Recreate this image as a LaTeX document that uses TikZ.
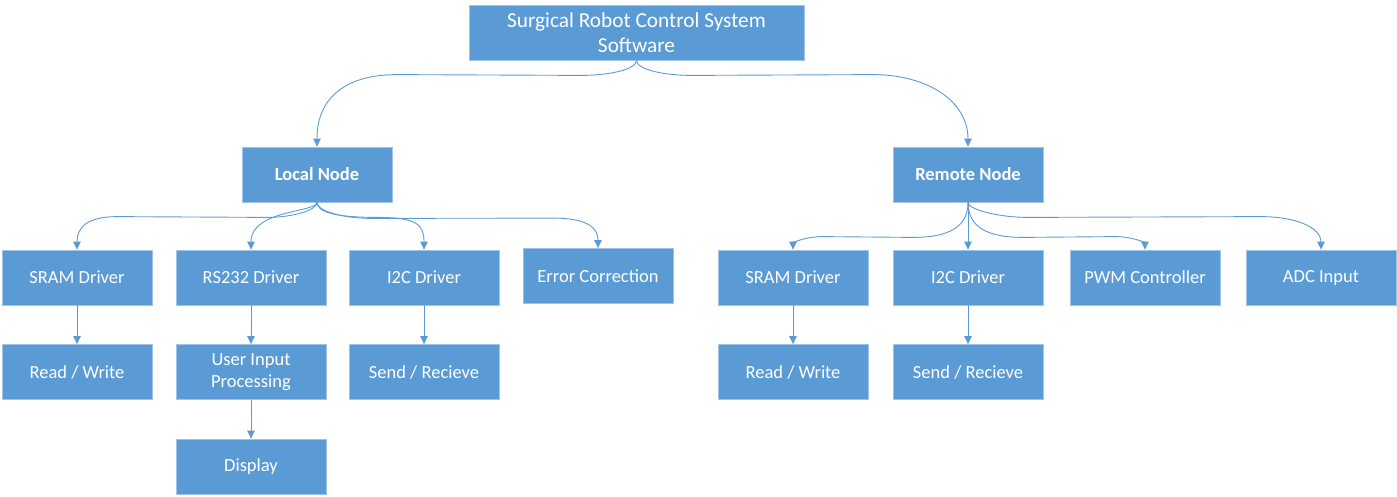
\documentclass[tikz,border=0pt]{standalone}
\usepackage{fontspec}
\setmainfont{Carlito}
\usetikzlibrary{arrows.meta,calc}
\definecolor{boxblue}{RGB}{91,155,213}
\definecolor{boxedge}{RGB}{160,196,230}
\definecolor{linkblue}{RGB}{91,155,213}
\begin{document}
\begin{tikzpicture}[x=1pt,y=-1pt,
  box/.style={rectangle, fill=boxblue, draw=boxedge, line width=0.8pt, text=white,
    minimum width=150, minimum height=55, inner sep=2pt, align=center,
    font=\fontsize{18.5}{21.5}\selectfont},
  conn/.style={draw=linkblue, line width=0.9pt, -{Triangle[length=8pt,width=7.5pt]}}]
\useasboundingbox (0,0) rectangle (1397,496);

% top
\node[box, minimum width=335, font=\fontsize{21.3}{25}\selectfont] (top) at (636.5,32.5) {Surgical Robot Control System\\Software};
% level 1
\node[box, font=\fontsize{18.5}{21.5}\selectfont\bfseries] (local) at (317,174.5) {Local Node};
\node[box, font=\fontsize{18.5}{21.5}\selectfont\bfseries] (remote) at (968,174.5) {Remote Node};
% local children
\node[box] (lsram) at (77,277.5) {SRAM Driver};
\node[box] (lrs) at (251,277.5) {RS232 Driver};
\node[box] (li2c) at (424,277.5) {I2C Driver};
\node[box] (lerr) at (598,276) {Error Correction};
\node[box] (lrw) at (77,372) {Read / Write};
\node[box] (luip) at (251,372) {User Input\\Processing};
\node[box] (lsr) at (424,372) {Send / Recieve};
\node[box] (ldisp) at (251,466.5) {Display};
% remote children
\node[box] (rsram) at (793,277.5) {SRAM Driver};
\node[box] (ri2c) at (968,277.5) {I2C Driver};
\node[box] (rpwm) at (1145,277.5) {PWM Controller};
\node[box] (radc) at (1321,277.5) {ADC Input};
\node[box] (rrw) at (793,372) {Read / Write};
\node[box] (rsr) at (968,372) {Send / Recieve};

% top connectors
\draw[conn] (top.south) .. controls +(0,9) and +(28,0) .. ($(top.south)+(-55,15)$)
  -- ($(local.north)+(80,-72)$) .. controls +(-50,0) and +(0,-50) .. (local.north);
\draw[conn] (top.south) .. controls +(0,9) and +(-28,0) .. ($(top.south)+(55,15)$)
  -- ($(remote.north)+(-95,-72)$) .. controls +(55,0) and +(0,-45) .. (remote.north);

% local connectors
\draw[conn] (local.south) .. controls +(0,8) and +(25,0) .. ($(local.south)+(-50,15)$)
  -- ($(lsram.north)+(40,-33)$) .. controls +(-30,0) and +(0,-22) .. (lsram.north);
\draw[conn] (local.south) .. controls +(0,10) and +(0,-40) .. (lrs.north);
\draw[conn] (local.south) .. controls +(0,10) and +(-40,0) .. ($(local.south)+(60,15)$)
  .. controls +(40,0) and +(0,-25) .. (li2c.north);
\draw[conn] (local.south) .. controls +(0,9) and +(-28,0) .. ($(local.south)+(55,16)$)
  -- ($(lerr.north)+(-45,-30)$) .. controls +(35,0) and +(0,-20) .. (lerr.north);

% remote connectors
\draw[conn] (remote.south) .. controls +(0,25) and +(35,0) .. ($(remote.south)+(-55,35)$)
  -- ($(rsram.north)+(30,-13)$) .. controls +(-20,0) and +(0,-6) .. (rsram.north);
\draw[conn] (remote.south) -- (ri2c.north);
\draw[conn] (remote.south) .. controls +(0,25) and +(-35,0) .. ($(remote.south)+(55,35)$)
  -- ($(rpwm.north)+(-30,-13)$) .. controls +(20,0) and +(0,-6) .. (rpwm.north);
\draw[conn] (remote.south) .. controls +(0,7) and +(-30,0) .. ($(remote.south)+(60,15)$)
  -- ($(radc.north)+(-60,-33)$) .. controls +(35,0) and +(0,-22) .. (radc.north);

% vertical connectors
\draw[conn] (lsram) -- (lrw);
\draw[conn] (lrs) -- (luip);
\draw[conn] (luip) -- (ldisp);
\draw[conn] (li2c) -- (lsr);
\draw[conn] (rsram) -- (rrw);
\draw[conn] (ri2c) -- (rsr);
\end{tikzpicture}
\end{document}
